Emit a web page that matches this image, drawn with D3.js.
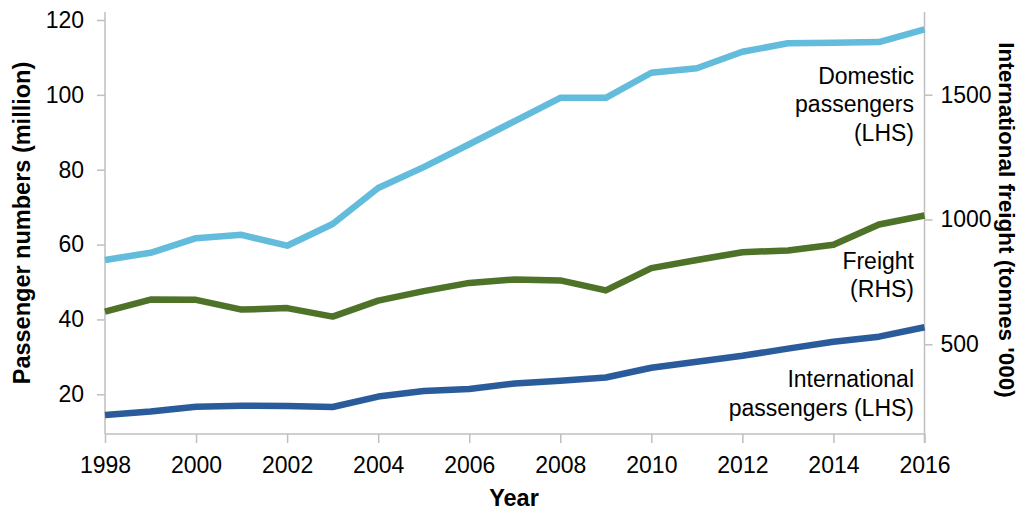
<!DOCTYPE html>
<html>
<head>
<meta charset="utf-8">
<script src="https://cdn.jsdelivr.net/npm/d3@7"></script>
<style>
  html, body { margin: 0; padding: 0; background: #fff; }
  svg { display: block; }
  text { font-family: "Liberation Sans", Arial, sans-serif; fill: #000; }
</style>
</head>
<body>
<svg id="chart" width="1023" height="513"></svg>
<script>
// Years on the x axis
const years = [1998, 1999, 2000, 2001, 2002, 2003, 2004, 2005, 2006, 2007,
               2008, 2009, 2010, 2011, 2012, 2013, 2014, 2015, 2016];

// Passenger numbers (million), left axis
const domesticPassengers = [55.9, 57.8, 61.7, 62.6, 59.7, 65.5, 75.1, 80.7, 86.8, 93.0,
                            99.2, 99.2, 105.9, 107.1, 111.5, 113.8, 113.9, 114.1, 117.5];
const internationalPassengers = [14.5, 15.4, 16.7, 16.95, 16.9, 16.6, 19.4, 20.9, 21.4, 22.9,
                                 23.6, 24.5, 27.1, 28.7, 30.3, 32.2, 34.05, 35.4, 37.9];

// International freight (tonnes '000), right axis
const freight = [631, 679, 678, 639, 645, 611, 675, 713, 746, 760,
                 756, 716, 805, 838, 869, 876, 899, 980, 1016];

// Tick labels
const xTicks = [1998, 2000, 2002, 2004, 2006, 2008, 2010, 2012, 2014, 2016];
const leftTicks = [20, 40, 60, 80, 100, 120];
const rightTicks = [500, 1000, 1500];

const svg = d3.select("#chart");

const plot = { left: 105, right: 924.5, top: 12, bottom: 434 };
const axisColor = "#bfbfbf";
const tickFont = "23px";
const titleFont = "23.5px";

const x = d3.scaleLinear().domain([1998, 2016]).range([plot.left, plot.right]);
const yL = d3.scaleLinear().domain([20, 120]).range([394.3, 20]);
const yR = d3.scaleLinear().domain([500, 1500]).range([344.3, 94.7]);

// Axis lines
svg.append("line")
  .attr("x1", plot.left).attr("x2", plot.left)
  .attr("y1", plot.top).attr("y2", plot.bottom)
  .attr("stroke", axisColor).attr("stroke-width", 1.5);
svg.append("line")
  .attr("x1", plot.right).attr("x2", plot.right)
  .attr("y1", plot.top).attr("y2", plot.bottom + 9)
  .attr("stroke", axisColor).attr("stroke-width", 1.5);
svg.append("line")
  .attr("x1", plot.left).attr("x2", plot.right)
  .attr("y1", plot.bottom).attr("y2", plot.bottom)
  .attr("stroke", axisColor).attr("stroke-width", 1.5);

function styleAxis(g) {
  g.select(".domain").remove();
  g.selectAll(".tick line").attr("stroke", axisColor).attr("stroke-width", 1.5);
  g.selectAll(".tick text")
    .style("font-family", "'Liberation Sans', Arial, sans-serif")
    .style("font-size", tickFont)
    .attr("fill", "#000");
}

// Bottom axis
svg.append("g")
  .attr("transform", `translate(0,${plot.bottom})`)
  .call(d3.axisBottom(x).tickValues(xTicks).tickFormat(d3.format("d"))
        .tickSize(9).tickPadding(14))
  .call(styleAxis);

// Left axis
svg.append("g")
  .attr("transform", `translate(${plot.left},0)`)
  .call(d3.axisLeft(yL).tickValues(leftTicks).tickFormat(d3.format("d"))
        .tickSize(8).tickPadding(13))
  .call(styleAxis);

// Right axis
svg.append("g")
  .attr("transform", `translate(${plot.right},0)`)
  .call(d3.axisRight(yR).tickValues(rightTicks).tickFormat(d3.format("d"))
        .tickSize(8).tickPadding(8))
  .call(styleAxis);

// Series lines
const lineL = d3.line().x((d, i) => x(years[i])).y(d => yL(d));
const lineR = d3.line().x((d, i) => x(years[i])).y(d => yR(d));

const series = [
  { values: domesticPassengers, gen: lineL, color: "#63bcdc" },
  { values: freight, gen: lineR, color: "#4e7228" },
  { values: internationalPassengers, gen: lineL, color: "#2a5c9c" }
];

svg.append("g").selectAll("path")
  .data(series)
  .join("path")
  .attr("d", d => d.gen(d.values))
  .attr("fill", "none")
  .attr("stroke", d => d.color)
  .attr("stroke-width", 6.5)
  .attr("stroke-linejoin", "round");

// Series labels
const labels = [
  { lines: ["Domestic", "passengers", "(LHS)"], y: 83.5 },
  { lines: ["Freight", "(RHS)"], y: 268.5 },
  { lines: ["International", "passengers (LHS)"], y: 387 }
];
labels.forEach(l => {
  const t = svg.append("text")
    .attr("text-anchor", "end")
    .style("font-size", tickFont);
  l.lines.forEach((s, i) => {
    t.append("tspan").attr("x", 914).attr("y", l.y + i * 28.6).text(s);
  });
});

// Axis titles
svg.append("text")
  .attr("x", 514).attr("y", 506)
  .attr("text-anchor", "middle")
  .style("font-size", titleFont).style("font-weight", "bold")
  .text("Year");

svg.append("text")
  .attr("transform", `translate(30,${(plot.top + plot.bottom) / 2}) rotate(-90)`)
  .attr("text-anchor", "middle")
  .style("font-size", titleFont).style("font-weight", "bold")
  .text("Passenger numbers (million)");

svg.append("text")
  .attr("transform", `translate(999,220) rotate(90)`)
  .attr("text-anchor", "middle")
  .style("font-size", "22.5px").style("font-weight", "bold")
  .text("International freight (tonnes '000)");
</script>
</body>
</html>
